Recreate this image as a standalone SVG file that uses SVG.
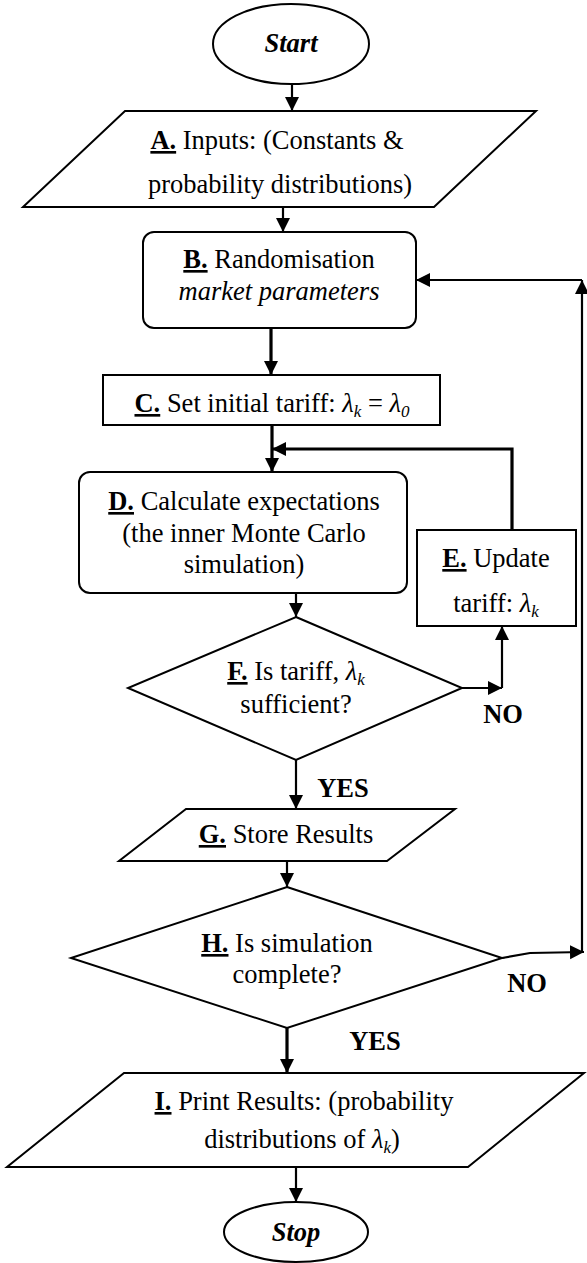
<svg xmlns="http://www.w3.org/2000/svg" width="587" height="1263" viewBox="0 0 587 1263">
<style>
.shape{fill:#fff;stroke:#000;stroke-width:2}
.t{font-family:"Liberation Serif","Times New Roman",serif;font-size:26.5px;fill:#000;text-anchor:middle}
.b{font-weight:bold}
.u{font-weight:bold;text-decoration:underline}
.i{font-style:italic}
.sub{font-style:italic;font-size:17px}
.c{fill:none;stroke:#000;stroke-width:2.2}
.thick{stroke-width:3.2}
</style>
<defs>
<marker id="ah" markerUnits="userSpaceOnUse" markerWidth="16" markerHeight="16" refX="14" refY="7" orient="auto">
<path d="M0,0 L14,7 L0,14 z" fill="#000"/>
</marker>
</defs>
<rect width="587" height="1263" fill="#fff"/>
<g id="connectors">
<path class="c" d="M292,84 L292,111" marker-end="url(#ah)"/>
<path class="c" d="M283,207 L283,232" marker-end="url(#ah)"/>
<path class="c thick" d="M271,328 L271,375" marker-end="url(#ah)"/>
<path class="c thick" d="M272,425 L272,472" marker-end="url(#ah)"/>
<path class="c thick" d="M512,530 L512,449 L272,449" marker-end="url(#ah)"/>
<path class="c" d="M296,593 L296,617" marker-end="url(#ah)"/>
<path class="c" d="M462,688 L502,688" marker-end="url(#ah)"/>
<path class="c" d="M502,688 L502,626" marker-end="url(#ah)"/>
<path class="c" d="M296,760 L296,809" marker-end="url(#ah)"/>
<path class="c" d="M287,861 L287,887" marker-end="url(#ah)"/>
<path class="c" d="M502,958 L530,953 L584,952" marker-end="url(#ah)"/>
<path class="c" d="M582,952 L582,280" marker-end="url(#ah)"/>
<path class="c" d="M582,280 L416,280" marker-end="url(#ah)"/>
<path class="c thick" d="M287,1028 L287,1073" marker-end="url(#ah)"/>
<path class="c" d="M296,1167 L296,1202" marker-end="url(#ah)"/>
</g>
<g id="start">
<ellipse class="shape" cx="291" cy="44" rx="78" ry="40"/>
<text class="t b i" x="291" y="52">Start</text>
</g>
<g id="nodeA">
<polygon class="shape" points="125,111 536,111 434,207 23,207"/>
<text class="t" x="277" y="149"><tspan class="u">A.</tspan> Inputs: (Constants &amp;</text>
<text class="t" x="280" y="193">probability distributions)</text>
</g>
<g id="nodeB">
<rect class="shape" x="143" y="232" width="273" height="96" rx="11"/>
<text class="t" x="279" y="268"><tspan class="u">B.</tspan> Randomisation</text>
<text class="t i" x="279" y="300">market parameters</text>
</g>
<g id="nodeC">
<rect class="shape" x="103" y="375" width="337" height="50"/>
<text class="t" x="272" y="412"><tspan class="u">C.</tspan> Set initial tariff: <tspan class="i">λ</tspan><tspan class="sub" dy="5">k</tspan><tspan dy="-5"> = </tspan><tspan class="i">λ</tspan><tspan class="sub" dy="5">0</tspan></text>
</g>
<g id="nodeD">
<rect class="shape" x="79" y="472" width="328" height="121" rx="11"/>
<text class="t" x="244" y="510"><tspan class="u">D.</tspan> Calculate expectations</text>
<text class="t" x="244" y="542">(the inner Monte Carlo</text>
<text class="t" x="244" y="573">simulation)</text>
</g>
<g id="nodeE">
<rect class="shape" x="417" y="530" width="159" height="96"/>
<text class="t" x="496" y="567"><tspan class="u">E.</tspan> Update</text>
<text class="t" x="496" y="612">tariff: <tspan class="i">λ</tspan><tspan class="sub" dy="5">k</tspan></text>
</g>
<g id="nodeF">
<polygon class="shape" points="296,617 462,688 296,760 128,688"/>
<text class="t" x="296" y="680"><tspan class="u">F.</tspan> Is tariff, <tspan class="i">λ</tspan><tspan class="sub" dy="5">k</tspan></text>
<text class="t" x="296" y="713">sufficient?</text>
</g>
<g id="nodeG">
<polygon class="shape" points="186,809 455,809 387,861 119,861"/>
<text class="t" x="286" y="843"><tspan class="u">G.</tspan> Store Results</text>
</g>
<g id="nodeH">
<polygon class="shape" points="287,887 502,958 287,1028 71,958"/>
<text class="t" x="287" y="952"><tspan class="u">H.</tspan> Is simulation</text>
<text class="t" x="287" y="983">complete?</text>
</g>
<g id="nodeI">
<polygon class="shape" points="124,1073 584,1073 468,1167 7,1167"/>
<text class="t" x="304" y="1110"><tspan class="u">I.</tspan> Print Results: (probability</text>
<text class="t" x="302" y="1148">distributions of <tspan class="i">λ</tspan><tspan class="sub" dy="5">k</tspan><tspan dy="-5">)</tspan></text>
</g>
<g id="stop">
<ellipse class="shape" cx="296" cy="1232" rx="72" ry="30"/>
<text class="t b i" x="296" y="1241">Stop</text>
</g>
<g id="labels">
<text class="t b" x="503" y="723">NO</text>
<text class="t b" x="343" y="797">YES</text>
<text class="t b" x="527" y="992">NO</text>
<text class="t b" x="375" y="1050">YES</text>
</g>
</svg>
